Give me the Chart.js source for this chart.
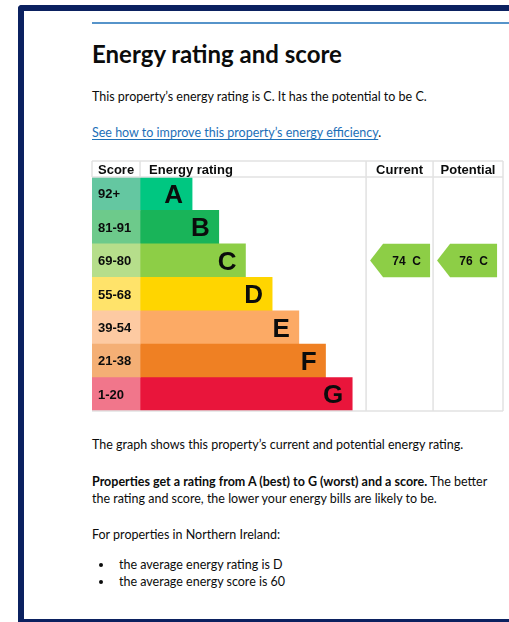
<!DOCTYPE html>
<html>
<head>
<meta charset="utf-8">
<script src="https://cdn.jsdelivr.net/npm/chart.js@4"></script>
<style>
  html, body { margin: 0; padding: 0; background: #fff; width: 509px; height: 622px; overflow: hidden; }
  body { position: relative; font-family: Lato, "Noto Sans", sans-serif; color: #0b0c0c; }
  .frame { position: absolute; left: 18px; top: 5px; width: 600px; height: 617px; box-sizing: border-box;
           border-left: 6px solid #0b2160; border-top: 6px solid #0b2160; border-bottom: 3px solid #0b2160;
           border-top-left-radius: 4px; }
  .rule { position: absolute; left: 92px; top: 22px; width: 420px; height: 2px; background: #5694ca; }
  .txt { position: absolute; left: 92px; margin: 0; font-size: 12.5px; line-height: 17px; white-space: nowrap; }
  h2 { position: absolute; left: 92px; top: 40px; margin: 0; font-size: 24px; line-height: 28px; font-weight: 700; }
  a { color: #1d70b8; text-decoration: underline; text-underline-offset: 2px; }
  ul { position: absolute; left: 92px; top: 556px; margin: 0; padding: 0; list-style: none; font-size: 12.5px; line-height: 17px; }
  li { position: relative; padding-left: 27px; }
  li::before { content: ""; position: absolute; left: 7px; top: 7px; width: 4px; height: 4px; border-radius: 50%; background: #0b0c0c; }
  #epc { position: absolute; left: 88px; top: 155px; }
</style>
</head>
<body>
<div class="frame"></div>
<div class="rule"></div>
<h2>Energy rating and score</h2>
<p class="txt" style="top:88px">This property’s energy rating is C. It has the potential to be C.</p>
<p class="txt" style="top:124px"><a href="#">See how to improve this property’s energy efficiency</a>.</p>
<canvas id="epc" width="419" height="260"></canvas>
<p class="txt" style="top:436px">The graph shows this property’s current and potential energy rating.</p>
<p class="txt" style="top:473px; white-space: normal; width: 410px;"><b>Properties get a rating from A (best) to G (worst) and a score.</b> The better the rating and score, the lower your energy bills are likely to be.</p>
<p class="txt" style="top:526px">For properties in Northern Ireland:</p>
<ul>
  <li>the average energy rating is D</li>
  <li>the average energy score is 60</li>
</ul>
<script>
const bands = ['A', 'B', 'C', 'D', 'E', 'F', 'G']
const scoreRanges = ['92+', '81-91', '69-80', '55-68', '39-54', '21-38', '1-20']
const bandMinScores = [92, 81, 69, 55, 39, 21, 1]
const barLengths = [1.95, 2.95, 3.95, 4.95, 5.95, 6.95, 7.95]
const bandColors = ['#00c781', '#19b459', '#8dce46', '#ffd500', '#fcaa65', '#ef8023', '#e9153b']
const scoreColors = ['#64c7a1', '#6dca8b', '#b6de8b', '#ffe36a', '#fdcaa2', '#f4af75', '#f1768b']
const currentScore = 74
const potentialScore = 76

// layout in x-axis units
const scoreColWidth = 1.8
const currentColStart = 10.27
const potentialColStart = 12.78
const xMax = 15.4
const gridColor = '#e2e2e2'

function bandFor(score) {
  for (var i = 0; i < bandMinScores.length; i++) {
    if (score >= bandMinScores[i]) return i
  }
  return bandMinScores.length - 1
}

const epcTable = {
  id: 'epcTable',
  afterDraw(chart) {
    const ctx = chart.ctx
    const area = chart.chartArea
    const x = chart.scales.x
    const y = chart.scales.y
    const headTop = area.top - 16
    const scoreEdge = x.getPixelForValue(scoreColWidth)
    const curX = x.getPixelForValue(currentColStart)
    const potX = x.getPixelForValue(potentialColStart)
    const rowH = y.getPixelForValue(1) - y.getPixelForValue(0)

    ctx.save()
    // grid lines
    ctx.strokeStyle = gridColor
    ctx.lineWidth = 1.5
    ctx.beginPath()
    ctx.moveTo(area.left, headTop); ctx.lineTo(area.right, headTop)
    ctx.moveTo(area.left, area.top); ctx.lineTo(area.right, area.top)
    ctx.moveTo(area.left, area.bottom); ctx.lineTo(area.right, area.bottom)
    ctx.moveTo(area.left, headTop); ctx.lineTo(area.left, area.top)
    ctx.moveTo(scoreEdge, headTop); ctx.lineTo(scoreEdge, area.top)
    ctx.moveTo(curX, headTop); ctx.lineTo(curX, area.bottom)
    ctx.moveTo(potX, headTop); ctx.lineTo(potX, area.bottom)
    ctx.moveTo(area.right, headTop); ctx.lineTo(area.right, area.bottom)
    ctx.stroke()

    // header
    ctx.fillStyle = '#0b0c0c'
    ctx.font = 'bold 13px "Liberation Sans", Arial, sans-serif'
    ctx.textBaseline = 'middle'
    ctx.textAlign = 'left'
    ctx.fillText('Score', area.left + 6, headTop + 9)
    ctx.fillText('Energy rating', scoreEdge + 9, headTop + 9)
    ctx.textAlign = 'center'
    ctx.fillText('Current', (curX + potX) / 2, headTop + 9)
    ctx.fillText('Potential', (potX + area.right) / 2, headTop + 9)

    // row labels
    for (var i = 0; i < bands.length; i++) {
      const cy = y.getPixelForValue(i)
      ctx.textAlign = 'left'
      ctx.font = 'bold 13px "Liberation Sans", Arial, sans-serif'
      ctx.fillText(scoreRanges[i], area.left + 6, cy + 1)
      ctx.textAlign = 'right'
      ctx.font = 'bold 26px "Liberation Sans", Arial, sans-serif'
      ctx.fillText(bands[i], x.getPixelForValue(scoreColWidth + barLengths[i]) - 9, cy + 2)
    }

    // current / potential arrows
    const arrows = [[currentScore, curX], [potentialScore, potX]]
    arrows.forEach(function (a) {
      const b = bandFor(a[0])
      const cy = y.getPixelForValue(b)
      const top = cy - rowH / 2
      const bot = cy + rowH / 2
      const left = a[1] + 4
      const notch = left + 13
      const right = left + 60
      ctx.fillStyle = bandColors[b]
      ctx.beginPath()
      ctx.moveTo(left, cy)
      ctx.lineTo(notch, top)
      ctx.lineTo(right, top)
      ctx.lineTo(right, bot)
      ctx.lineTo(notch, bot)
      ctx.closePath()
      ctx.fill()
      ctx.fillStyle = '#0b0c0c'
      ctx.font = 'bold 12px "Liberation Sans", Arial, sans-serif'
      ctx.textAlign = 'center'
      ctx.fillText(a[0] + '  ' + bands[b], (notch + right) / 2, cy + 1)
    })
    ctx.restore()
  }
}

new Chart(document.getElementById('epc'), {
  type: 'bar',
  data: {
    labels: bands,
    datasets: [{
      label: 'Score',
      data: bands.map(function () { return scoreColWidth }),
      backgroundColor: scoreColors,
      borderWidth: 0
    }, {
      label: 'Energy rating',
      data: barLengths,
      backgroundColor: bandColors,
      borderWidth: 0
    }]
  },
  options: {
    indexAxis: 'y',
    responsive: false,
    animation: false,
    devicePixelRatio: 1,
    categoryPercentage: 1,
    barPercentage: 1,
    layout: { padding: { top: 22, left: 4, right: 4, bottom: 4 } },
    scales: {
      x: { stacked: true, min: 0, max: xMax, display: false },
      y: { stacked: true, display: false }
    },
    plugins: {
      legend: { display: false },
      tooltip: { enabled: false }
    }
  },
  plugins: [epcTable]
})
</script>
</body>
</html>
